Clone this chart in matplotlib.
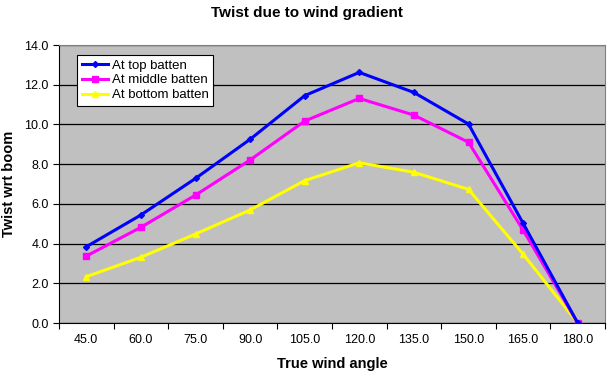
import numpy as np
import matplotlib
matplotlib.use('Agg')
import matplotlib.pyplot as plt
from matplotlib.ticker import FixedLocator, NullFormatter

plt.rcParams["font.family"] = ["Liberation Sans", "DejaVu Sans"]

# ── data ────────────────────────────────────────────────────────────────
angles = [45.0, 60.0, 75.0, 90.0, 105.0, 120.0, 135.0, 150.0, 165.0, 180.0]
top_batten = [3.84, 5.44, 7.28, 9.25, 11.45, 12.62, 11.61, 10.02, 5.02, 0.0]
middle_batten = [3.37, 4.82, 6.44, 8.21, 10.17, 11.31, 10.47, 9.10, 4.68, 0.0]
bottom_batten = [2.33, 3.31, 4.48, 5.69, 7.17, 8.07, 7.59, 6.73, 3.47, 0.0]
yticks = [0.0, 2.0, 4.0, 6.0, 8.0, 10.0, 12.0, 14.0]

fig = plt.figure(figsize=(6.07, 3.71), dpi=100)
ax = fig.add_axes([59 / 607, 1 - 323 / 371, (605 - 59) / 607, (323 - 45) / 371])
ax.set_facecolor("#c0c0c0")

x = np.arange(len(angles))
ax.plot(x, top_batten, color="#0000ff", lw=2.2, marker="D", ms=3,
        label="At top batten", zorder=4)
ax.plot(x, middle_batten, color="#ff00ff", lw=2.2, marker="s", ms=4.5,
        label="At middle batten", zorder=3)
ax.plot(x, bottom_batten, color="#ffff00", lw=2.2, marker="^", ms=4.5,
        label="At bottom batten", zorder=2)

ax.set_xlim(-0.5, len(angles) - 0.5)
ax.set_ylim(0, 14)
ax.set_yticks(yticks)
ax.set_yticklabels([f"{v:.1f}" for v in yticks], fontsize=9)
ax.yaxis.grid(True, color="black", lw=0.9)
ax.set_axisbelow(True)

# category labels centred in bins, tick marks at bin boundaries
ax.xaxis.set_major_locator(FixedLocator(np.arange(len(angles) + 1) - 0.5))
ax.xaxis.set_major_formatter(NullFormatter())
ax.xaxis.set_minor_locator(FixedLocator(x))
ax.set_xticklabels([f"{a:.1f}" for a in angles], minor=True, fontsize=9)
ax.tick_params(axis="x", which="major", length=4, direction="out")
ax.tick_params(axis="x", which="minor", length=0, pad=8)
ax.tick_params(axis="y", length=4, direction="out")

for side in ["top", "right"]:
    ax.spines[side].set_color("#808080")
for side in ["left", "bottom"]:
    ax.spines[side].set_color("black")

ax.set_xlabel("True wind angle", fontsize=10.5, fontweight="bold", labelpad=8)
ax.set_ylabel("Twist wrt boom", fontsize=10.5, fontweight="bold", labelpad=6)
fig.text(0.505, 1 - 13 / 371, "Twist due to wind gradient", fontsize=11,
         fontweight="bold", ha="center", va="center")

leg = ax.legend(loc="upper left", bbox_to_anchor=(0.033, 0.965), fontsize=9.5,
                frameon=True, fancybox=False, edgecolor="black",
                borderpad=0.35, labelspacing=0.2, handlelength=2.0,
                handletextpad=0.3, borderaxespad=0)
leg.get_frame().set_linewidth(0.8)
leg.get_frame().set_facecolor("white")
leg.get_frame().set_alpha(1)

fig.savefig("out.png", dpi=100)
